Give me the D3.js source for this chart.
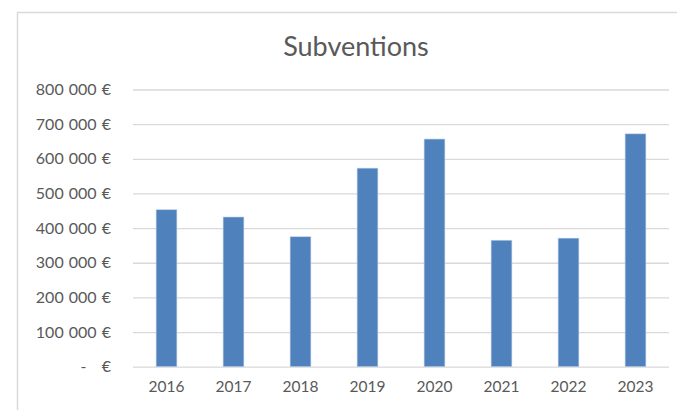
<!DOCTYPE html>
<html><head><meta charset="utf-8">
<script src="https://cdn.jsdelivr.net/npm/d3@7"></script>
<style>body{margin:0;background:#fff}svg{display:block}</style>
</head><body>
<script>
const categories = ["2016","2017","2018","2019","2020","2021","2022","2023"];
const values = [453000, 432000, 375000, 573000, 657000, 365000, 371000, 672000];
const yTicks = [0,100000,200000,300000,400000,500000,600000,700000,800000];
const title = "Subventions";

const W=677,H=410;
const svg=d3.select("body").append("svg").attr("width",W).attr("height",H);
const font="Lato, 'Open Sans', sans-serif";
// frame
svg.append("path").attr("d","M17.5,410 V12.5 H677").attr("fill","none").attr("stroke","#D9D9D9").attr("stroke-width",1.5);

const x=d3.scaleBand().domain(categories).range([133,669]).paddingInner(0.69).paddingOuter(0.345);
const y=d3.scaleLinear().domain([0,800000]).range([366.7,89.5]);

const fmt=v=> v===0 ? "-\u00a0\u00a0\u00a0€" : d3.format(",")(v).replace(/,/g," ")+" €";

const ga=svg.append("g").attr("transform","translate(133,0)")
  .call(d3.axisLeft(y).tickValues(yTicks).tickSize(-(669-133)).tickPadding(22).tickFormat(fmt));
ga.select(".domain").remove();
ga.selectAll(".tick line").attr("stroke","#D9D9D9").attr("stroke-width",1.3);
ga.selectAll(".tick text").attr("fill","#595959").style("font-family",font).style("font-size","16px").style("word-spacing","1px");

svg.append("g").selectAll("rect").data(values).join("rect")
  .attr("x",(d,i)=>x(categories[i]))
  .attr("width",x.bandwidth())
  .attr("y",d=>y(d))
  .attr("height",d=>y(0)-y(d))
  .attr("fill","#4F81BD").attr("stroke","#BCCFE8").attr("stroke-width",0.6);

const gx=svg.append("g").attr("transform","translate(0,366.7)")
  .call(d3.axisBottom(x).tickSize(0).tickPadding(14));
gx.select(".domain").remove();
gx.selectAll(".tick text").attr("fill","#595959").style("font-family",font).style("font-size","15.5px");

svg.append("text").attr("x",356).attr("y",56).attr("text-anchor","middle")
  .attr("fill","#595959").style("font-family",font).style("font-size","27px").text(title);
</script>
</body></html>
